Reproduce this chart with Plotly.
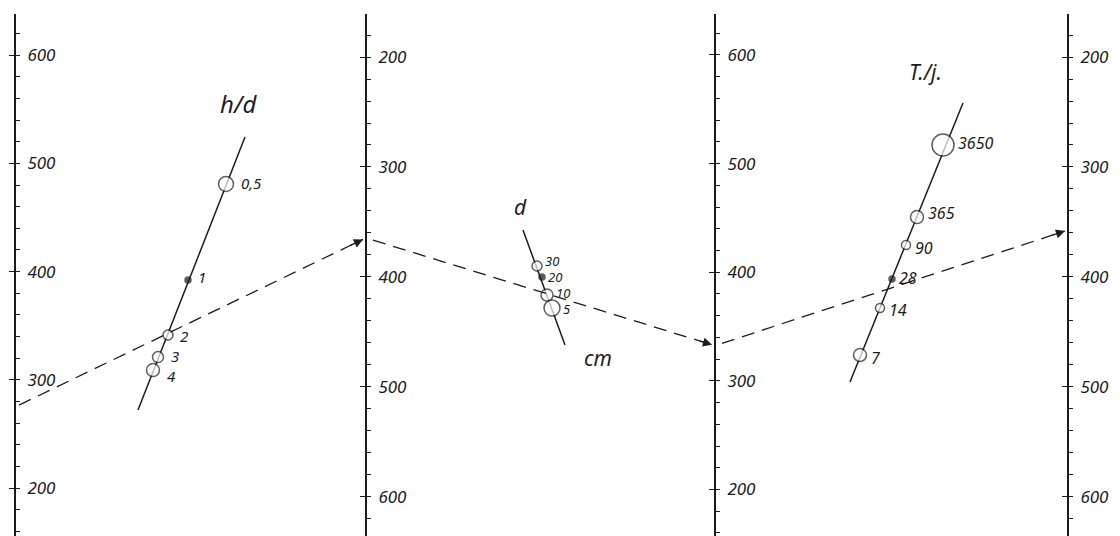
import plotly.graph_objects as go

# ---------------- data ----------------
# tick values of the four vertical scales
SCALE_TICKS = [200, 300, 400, 500, 600]

# h/d scale: labels and level of each mark, read against the left scale
HD_LABELS = ["0,5", "1", "2", "3", "4"]
HD_LEVEL = [480.9, 392.2, 341.5, 321.1, 309.1]
HD_FILLED = [False, True, False, False, False]

# d (cm) scale
D_LABELS = ["30", "20", "10", "5"]
D_LEVEL = [405.2, 395.0, 378.4, 366.4]
D_FILLED = [False, True, False, False]

# T./j. scale
TJ_LABELS = ["3650", "365", "90", "28", "14", "7"]
TJ_LEVEL = [516.9, 450.4, 424.6, 393.2, 366.4, 323.0]
TJ_FILLED = [False, False, False, True, False, False]

# worked example: reading on each of the four vertical scales
KEY_READINGS = [275.0, 364.5, 332.4, 357.3]

# ---------------- geometry / style ----------------
AX_X = [15, 366, 715, 1068]                     # horizontal place of each vertical scale
RANGES = [[155.9, 637.9], [635.5, 160.9], [157.2, 637.7], [635.5, 160.9]]  # bottom -> top

HD_X = [226, 188, 168, 158, 153]
HD_SIZE = [15, 6, 10, 11, 13]
HD_LINE_X = [138, 245]
HD_LINE_LEVEL = [272.2, 524.3]
HD_LAB_STYLE = dict(gap=6, yshift=[1, 3, -1, 1, -6], size=15)

D_X = [537, 542, 547, 552]
D_SIZE = [10, 6, 12, 16]
D_LINE_X = [523, 565]
D_LINE_LEVEL = [438.4, 332.2]
D_LAB_STYLE = dict(gap=2, yshift=[5, 0, 2, -1], size=13)

TJ_X = [943, 917, 906, 892, 880, 860]
TJ_SIZE = [22, 13, 9, 6, 9, 13]
TJ_LINE_X = [850, 963]
TJ_LINE_LEVEL = [298.1, 555.7]
TJ_LAB_STYLE = dict(gap=3, yshift=[2, 4, -3, 1, -2, -3], size=16)

INK = "#1c1c1c"
FONT = "Noto Sans"


def to_left(v, k):
    """convert a value read on scale k into the left-scale (yaxis) units"""
    r = RANGES[k]
    f = (v - r[0]) / (r[1] - r[0])
    R = RANGES[0]
    return R[0] + f * (R[1] - R[0])


fig = go.Figure()

# invisible anchor traces so every vertical scale is drawn
for k in range(4):
    fig.add_trace(go.Scatter(x=[AX_X[k]], y=[KEY_READINGS[k]], mode="markers",
                             marker=dict(opacity=0), yaxis="y" if k == 0 else f"y{k+1}",
                             hoverinfo="skip"))


def scale_line(lx, ly, xs, levels, sizes, filled, labels, st):
    fig.add_trace(go.Scatter(x=lx, y=ly, mode="lines",
                             line=dict(color=INK, width=1.5), hoverinfo="skip"))
    fig.add_trace(go.Scatter(
        x=xs, y=levels, mode="markers",
        marker=dict(size=sizes,
                    color=[INK if f else "white" for f in filled],
                    line=dict(color=INK, width=1.5)),
        hoverinfo="skip"))
    for x, y, s, t, ys in zip(xs, levels, sizes, labels, st["yshift"]):
        fig.add_annotation(x=x, y=y, xref="x", yref="y", text=t, showarrow=False,
                           xanchor="left", yanchor="middle", borderpad=0,
                           xshift=s / 2 + st["gap"], yshift=ys,
                           font=dict(family=FONT, size=st["size"], color=INK,
                                     style="italic"))


scale_line(HD_LINE_X, HD_LINE_LEVEL, HD_X, HD_LEVEL, HD_SIZE, HD_FILLED, HD_LABELS, HD_LAB_STYLE)
scale_line(D_LINE_X, D_LINE_LEVEL, D_X, D_LEVEL, D_SIZE, D_FILLED, D_LABELS, D_LAB_STYLE)
scale_line(TJ_LINE_X, TJ_LINE_LEVEL, TJ_X, TJ_LEVEL, TJ_SIZE, TJ_FILLED, TJ_LABELS, TJ_LAB_STYLE)

# dashed index lines with arrows
key_y = [to_left(v, k) for k, v in enumerate(KEY_READINGS)]
for i in range(3):
    x0, x1 = AX_X[i], AX_X[i + 1]
    y0, y1 = key_y[i], key_y[i + 1]
    xs0 = x0 + (7 if i > 0 else 4)
    ys0 = y0 + (y1 - y0) * (xs0 - x0) / (x1 - x0)
    xe = x1 - 3
    ye = y0 + (y1 - y0) * (xe - x0) / (x1 - x0)
    fig.add_trace(go.Scatter(x=[xs0, xe], y=[ys0, ye], mode="lines",
                             line=dict(color=INK, width=1.3, dash="13px,8px"),
                             hoverinfo="skip"))
    xa = xe - 14
    ya = y0 + (y1 - y0) * (xa - x0) / (x1 - x0)
    fig.add_annotation(x=xe, y=ye, ax=xa, ay=ya, xref="x", yref="y",
                       axref="x", ayref="y", text="", showarrow=True,
                       arrowhead=2, arrowsize=1.4, arrowwidth=1.3,
                       arrowcolor=INK)

# titles of the oblique scales
titles = [("h/d", 238, 555.7, 24), ("d", 520, 459.6, 21),
          ("cm", 598, 320.2, 21), ("T./j.", 925, 584.3, 21)]
for t, x, y, s in titles:
    fig.add_annotation(x=x, y=y, xref="x", yref="y", text=t, showarrow=False,
                       font=dict(family=FONT, size=s, color=INK, style="italic"))


def vaxis(k):
    d = dict(range=RANGES[k], anchor="free", position=AX_X[k] / 1120,
             side="left", ticks="outside", ticklen=5, tickwidth=1.4,
             tickcolor=INK, tickvals=SCALE_TICKS,
             ticklabelposition="inside", ticklabelstandoff=12,
             tickfont=dict(family=FONT, size=17, color=INK, style="italic"),
             showline=True, linecolor=INK, linewidth=1.6,
             showgrid=False, zeroline=False, fixedrange=True,
             minor=dict(ticks="inside", dtick=20, tick0=0, ticklen=4,
                        tickwidth=1.2, tickcolor=INK, showgrid=False))
    if k > 0:
        d["overlaying"] = "y"
    return d


fig.update_layout(
    width=1120, height=536,
    margin=dict(l=0, r=0, t=14, b=0),
    paper_bgcolor="white", plot_bgcolor="white",
    showlegend=False,
    xaxis=dict(range=[0, 1120], visible=False, fixedrange=True),
    yaxis=vaxis(0), yaxis2=vaxis(1), yaxis3=vaxis(2), yaxis4=vaxis(3),
)
fig.write_html("out.html", config={"displayModeBar": False},
               post_script="document.body.style.margin='0';")
